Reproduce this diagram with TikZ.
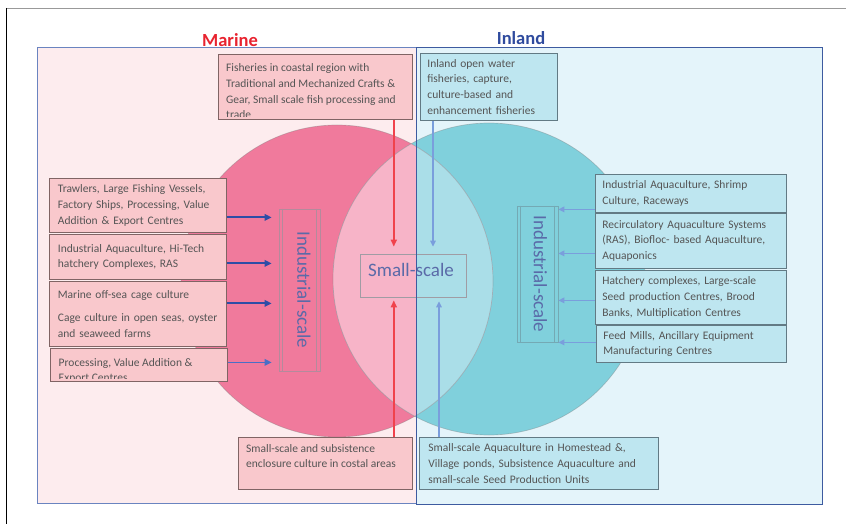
\documentclass[tikz,border=0pt]{standalone}
\usepackage{fontspec}
\setmainfont{Carlito}
\usetikzlibrary{arrows.meta}

\definecolor{marinebg}{HTML}{FDECEE}
\definecolor{inlandbg}{HTML}{E4F4FA}
\definecolor{pinkcirc}{HTML}{F07A9C}
\definecolor{tealcirc}{HTML}{80D0DC}
\definecolor{lenspink}{HTML}{F7B4C8}
\definecolor{lensteal}{HTML}{AADEE8}
\definecolor{pinkbox}{HTML}{F9C8CC}
\definecolor{bluebox}{HTML}{BEE6F0}
\definecolor{pinkline}{HTML}{806464}
\definecolor{blueline}{HTML}{627A84}
\definecolor{textgrey}{HTML}{555555}
\definecolor{scaletext}{HTML}{5A6AA8}
\definecolor{scalepink}{HTML}{B48A9C}
\definecolor{scaleteal}{HTML}{74A9B4}
\definecolor{smallline}{HTML}{A09CA4}
\definecolor{marinered}{HTML}{E8232F}
\definecolor{inlandblue}{HTML}{2F4B9E}
\definecolor{arrowred}{HTML}{F0424C}
\definecolor{arrowdark}{HTML}{2E4DA6}
\definecolor{arrowmid}{HTML}{4A6EC6}
\definecolor{arrowlight}{HTML}{7A9EDC}
\definecolor{marineframe}{HTML}{6A84C0}
\definecolor{inlandframe}{HTML}{3D5BA0}

\begin{document}
\begin{tikzpicture}[x=1pt, y=-1pt,
   boxfont/.style={font=\fontsize{11.5}{15.7}\selectfont, text=textgrey},
   pinkbx/.style={boxfont, draw=pinkline, fill=pinkbox, line width=0.8pt, anchor=north west, align=left, inner xsep=8.5pt, inner ysep=0pt},
   bluebx/.style={boxfont, draw=blueline, fill=bluebox, line width=0.8pt, anchor=north west, align=left, inner xsep=7pt, inner ysep=0pt},
   boxtxt/.style={boxfont, anchor=north west, align=left, inner sep=0pt},
   scalebx/.style={line width=0.7pt, inner sep=0pt},
   scaletxt/.style={font=\fontsize{19}{22}\selectfont, text=scaletext, inner sep=0pt},
   title/.style={font=\fontsize{18.5}{22}\selectfont\bfseries},
   redarr/.style={arrowred, line width=1.6pt, -{Triangle[length=7pt,width=6pt]}},
   darkarr/.style={arrowdark, line width=2pt, -{Triangle[length=7pt,width=6.5pt]}},
   lightarr/.style={arrowlight, line width=1.6pt, -{Triangle[length=6pt,width=5.5pt]}},
   circline/.style={draw=gray, draw opacity=0.4, line width=0.7pt}
]
   \useasboundingbox (0,0) rectangle (846,524);
   % panels
   \fill[marinebg] (37,47.5) rectangle (416,503);
   \fill[inlandbg] (416,48) rectangle (822,504);
   \draw[gray!80, line width=1pt] (6,8.5) -- (846,8.5);
   \draw[black, line width=1.3pt] (6.3,8) -- (6.3,524);

   % circles and overlap
   \fill[pinkcirc] (337,281) circle (156pt);
   \fill[tealcirc] (489,279) circle (156pt);
   \begin{scope}
      \clip (337,281) circle (156pt);
      \fill[lenspink] (489,279) circle (156pt);
      \clip (416,0) rectangle (846,524);
      \fill[lensteal] (489,279) circle (156pt);
   \end{scope}
   \draw[circline] (337,281) circle (156pt);
   \draw[circline] (489,279) circle (156pt);

   % titles
   \node[title, marinered] (marine) at (230,39.7) {Marine};
   \node[title, inlandblue] (inland) at (521,37.7) {Inland};

   % top boxes
   \node[pinkbx, text width=177pt, minimum height=65pt] (ftop) at (218,54) {};
   \begin{scope}
      \clip (ftop.north west) rectangle ([yshift=3pt]ftop.south east);
      \node[boxtxt] (ftoptxt) at ([shift={(8,9.5)}]ftop.north west) {Fisheries in coastal region with\\Traditional and Mechanized Crafts \&\\Gear, Small scale fish processing and\\trade};
   \end{scope}
   \node[bluebx, text width=123pt, minimum height=67pt] (itop) at (420,53) {Inland open water\\fisheries, capture,\\culture-based and\\enhancement fisheries};

   % marine industrial boxes
   \node[pinkbx, text width=160pt, minimum height=54pt] (m1) at (49,178) {Trawlers, Large Fishing Vessels,\\Factory Ships, Processing, Value\\Addition \& Export Centres};
   \node[pinkbx, text width=160pt, minimum height=45pt] (m2) at (49,234) {Industrial Aquaculture, Hi-Tech\\hatchery Complexes, RAS};
   \node[pinkbx, text width=160pt, minimum height=65pt] (m3) at (49,281) {Marine off-sea cage culture\\[8pt]Cage culture in open seas, oyster\\and seaweed farms};
   \node[pinkbx, text width=160pt, minimum height=33pt] (m4) at (50,348) {};
   \begin{scope}
      \clip (m4.north west) rectangle ([yshift=3.5pt]m4.south east);
      \node[boxtxt] (m4txt) at ([shift={(8.5,10)}]m4.north west) {Processing, Value Addition \&\\Export Centres};
   \end{scope}

   % inland industrial boxes
   \node[bluebx, text width=177pt, minimum height=38pt] (n1) at (595,174) {Industrial Aquaculture, Shrimp\\Culture, Raceways};
   \node[bluebx, text width=177pt, minimum height=55pt] (n2) at (595,213) {Recirculatory Aquaculture Systems\\(RAS), Biofloc- based Aquaculture,\\Aquaponics};
   \node[bluebx, text width=177pt, minimum height=54pt] (n3) at (595,270) {Hatchery complexes, Large-scale\\Seed production Centres, Brood\\Banks, Multiplication Centres};
   \node[bluebx, text width=176pt, minimum height=37pt] (n4) at (596,325) {Feed Mills, Ancillary Equipment\\Manufacturing Centres};

   % bottom boxes
   \node[pinkbx, text width=157pt, minimum height=52pt] (mbot) at (238,437) {};
   \node[boxtxt] (mbottxt) at ([shift={(8,7)}]mbot.north west) {Small-scale and subsistence\\enclosure culture in costal areas};
   \node[bluebx, text width=221pt, minimum height=52pt, inner xsep=9pt] (ibot) at (419,437) {Small-scale Aquaculture in Homestead \&,\\Village ponds, Subsistence Aquaculture and\\small-scale Seed Production Units};

   % scale boxes
   \node[scalebx, draw=scalepink, minimum width=41pt, minimum height=162pt] (ind1) at (299.5,290) {};
   \node[scalebx, draw=scaleteal, minimum width=41pt, minimum height=136pt] (ind2) at (537.5,274) {};
   \foreach \n/\c in {ind1/scalepink,ind2/scaleteal} {
      \draw[\c, line width=0.5pt] ([xshift=4pt]\n.north west) -- ([xshift=4pt]\n.south west);
      \draw[\c, line width=0.5pt] ([xshift=-4pt]\n.north east) -- ([xshift=-4pt]\n.south east);
   }
   \node[scaletxt, rotate=-90] (ind1txt) at ([xshift=4.5pt]ind1.center) {Industrial-scale};
   \node[scaletxt, rotate=-90] (ind2txt) at ([xshift=3pt]ind2.center) {Industrial-scale};
   \node[scalebx, draw=smallline, minimum width=106pt, minimum height=43pt] (small) at (413,275.5) {};
   \node[scaletxt] (smalltxt) at (411,270.4) {Small-scale};

   % frames on top
   \draw[marineframe, line width=1pt] (37,47.5) rectangle (416,503);
   \draw[inlandframe, line width=1pt] (416,48) rectangle (822,504);

   % arrows into small-scale
   \draw[redarr, shorten >=7pt] ([xshift=-19pt]ftop.south east) coordinate (r1) -- (r1 |- small.north);
   \draw[redarr, shorten >=3pt] ([xshift=-19pt]mbot.north east) coordinate (r2) -- (r2 |- small.south);
   \draw[lightarr, shorten >=7pt] ([xshift=13pt]itop.south west) coordinate (b1) -- (b1 |- small.north);
   \draw[lightarr, shorten >=4pt] ([xshift=20pt]ibot.north west) coordinate (b2) -- (b2 |- small.south);

   % arrows into industrial-scale
   \foreach \b/\dy in {m1/-12, m2/-6.5, m3/10.5}
      \draw[darkarr, shorten >=7pt] ([yshift=\dy pt]\b.east) coordinate (t) -- (t -| ind1.west);
   \draw[darkarr, arrowmid, line width=1.6pt, shorten >=7pt] ([yshift=2.5pt]m4.east) coordinate (t4) -- (t4 -| ind1.west);
   \foreach \b/\dy in {n1/-16, n2/-12.5, n3/-3, n4/1.5}
      \draw[lightarr] ([yshift=\dy pt]\b.west) coordinate (t) -- (t -| ind2.east);
\end{tikzpicture}
\end{document}
